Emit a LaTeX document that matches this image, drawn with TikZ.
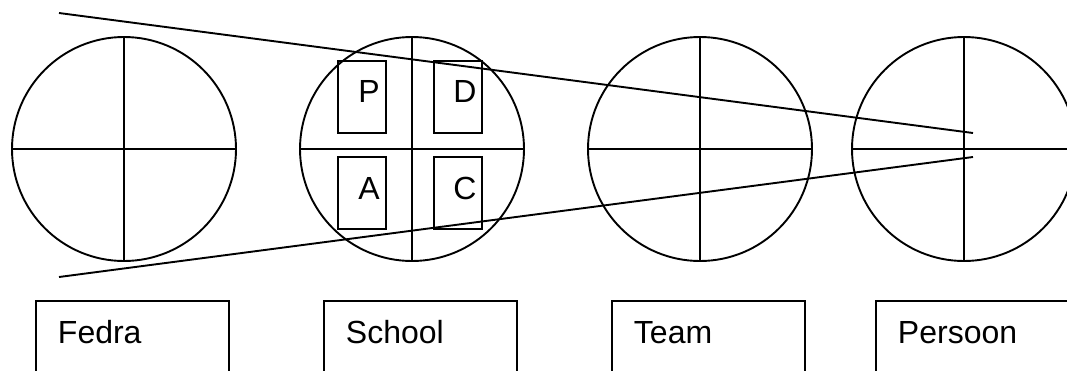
\documentclass[tikz,border=0pt]{standalone}
\usepackage{fontspec}
\setmainfont{Liberation Sans}
\begin{document}
\begin{tikzpicture}[x=1pt,y=-1pt,line width=1.9pt,
  wheel/.style={draw,circle,minimum size=224pt,inner sep=0pt},
  sbox/.style={draw,rectangle,minimum width=48pt,minimum height=72pt,inner sep=0pt},
  bbox/.style={draw,rectangle,anchor=north west,minimum width=193pt,minimum height=90pt,inner sep=0pt},
  txt/.style={font=\fontsize{32}{36}\selectfont,inner sep=0pt},
  lbl/.style={txt,anchor=base west}]
\useasboundingbox (0,0) rectangle (1067,370);
\clip (0,0) rectangle (1067,370);
% wheels
\node[wheel] (fedra) at (124,149) {};
\node[wheel] (school) at (412,149) {};
\node[wheel] (team) at (700,149) {};
\node[wheel] (persoon) at (964,149) {};
\foreach \w in {fedra,school,team,persoon}{
  \draw (\w.north) -- (\w.south);
  \draw (\w.west) -- (\w.east);
}
% PDCA boxes
\node[sbox] (pb) at (362,97) {};
\node[sbox] (db) at (458,97) {};
\node[sbox] (ab) at (362,193) {};
\node[sbox] (cb) at (458,193) {};
\node[txt] (pt) at ([shift={(7,-6)}]pb.center) {P};
\node[txt] (dt) at ([shift={(7,-6)}]db.center) {D};
\node[txt] (at) at ([shift={(7,-5)}]ab.center) {A};
\node[txt] (ct) at ([shift={(7,-5)}]cb.center) {C};
% funnel lines
\coordinate (t1) at (59,13);
\coordinate (t2) at (973,133);
\coordinate (b1) at (59,277);
\coordinate (b2) at (973,157);
\draw (t1) -- (t2);
\draw (b1) -- (b2);
% label boxes
\node[bbox] (fb) at (35,300) {};
\node[bbox] (sb) at (323,300) {};
\node[bbox] (tb) at (611,300) {};
\node[bbox] (prb) at (875,300) {};
\node[lbl] (fl) at ([shift={(22,43)}]fb.north west) {Fedra};
\node[lbl] (sl) at ([shift={(22,43)}]sb.north west) {School};
\node[lbl] (tl) at ([shift={(22,43)}]tb.north west) {Team};
\node[lbl] (pl) at ([shift={(22,43)}]prb.north west) {Persoon};
\end{tikzpicture}
\end{document}
